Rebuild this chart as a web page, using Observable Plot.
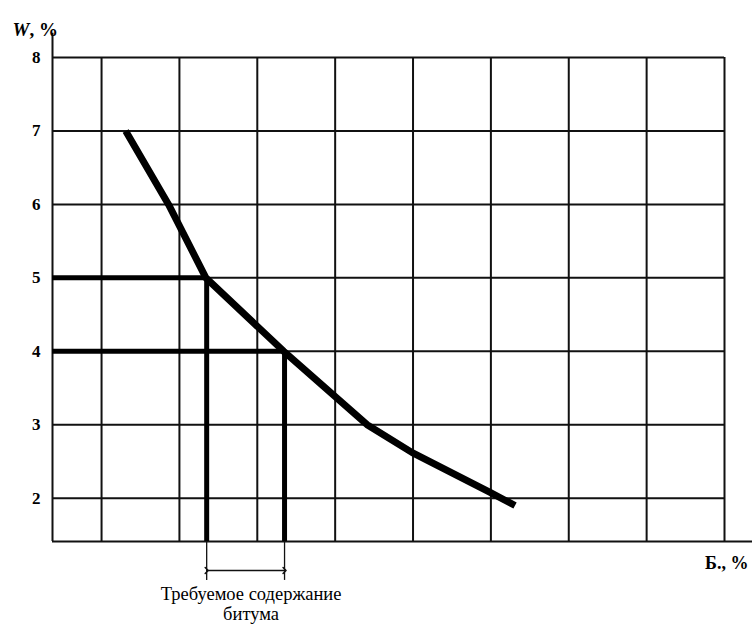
<!DOCTYPE html>
<html>
<head>
<meta charset="utf-8">
<script src="https://cdn.jsdelivr.net/npm/d3@7"></script>
<script src="https://cdn.jsdelivr.net/npm/@observablehq/plot@0.6"></script>
<style>
  html, body { margin: 0; padding: 0; background: #fff; }
  svg { display: block; }
</style>
</head>
<body>
<script>
// ---- data ----
const wTicks = [2, 3, 4, 5, 6, 7, 8];          // W, % gridlines / tick labels
const bGrid = [1, 2, 3, 4, 5, 6, 7, 8, 9];      // Б, % vertical gridlines (unlabelled)
const bDomain = [0.37, 9];
const wDomain = [1.41, 8];
const curveB = [1.31, 1.86, 2.34, 3.34, 4.41, 4.99, 5.99, 6.31];
const curveW = [7, 6, 5, 4, 3, 2.62, 2.08, 1.9];
const requiredW = [5, 4];
const requiredB = [2.35, 3.35];
const axisTopW = 8.33;
const axisRightB = 9.36;
const bracketW = [0.88, 1.015];                  // [bottom of leader lines, arrow level]
const captionText = "Требуемое содержание\nбитума";
const captionB = 2.92;
const captionW = 0.56;

const curve = curveB.map((b, i) => ({b, w: curveW[i]}));
const required = requiredB.map((b, i) => ({b, w: requiredW[i]}));

const svg = Plot.plot({
  width: 752,
  height: 628,
  marginLeft: 52,
  marginRight: 28,
  marginTop: 57,
  marginBottom: 87,
  style: {background: "#fff", fontFamily: "Liberation Serif, serif", color: "#000"},
  x: {domain: bDomain, axis: null},
  y: {domain: wDomain, axis: null},
  marks: [
    Plot.ruleY(wTicks, {x1: bDomain[0], x2: bDomain[1], stroke: "#111", strokeWidth: 2}),
    Plot.ruleX(bGrid, {y1: wDomain[0], y2: wDomain[1], stroke: "#111", strokeWidth: 2}),
    Plot.ruleX([bDomain[0]], {y1: wDomain[0], y2: axisTopW, stroke: "#111", strokeWidth: 2}),
    Plot.ruleY([wDomain[0]], {x1: bDomain[0], x2: axisRightB, stroke: "#111", strokeWidth: 2}),
    Plot.ruleY(required, {y: "w", x1: bDomain[0], x2: "b", stroke: "#000", strokeWidth: 5}),
    Plot.ruleX(required, {x: "b", y1: wDomain[0], y2: "w", stroke: "#000", strokeWidth: 5}),
    Plot.line(curve, {x: "b", y: "w", stroke: "#000", strokeWidth: 7, strokeLinecap: "butt", strokeLinejoin: "round", curve: "linear"}),
    Plot.ruleX(requiredB, {y1: wDomain[0], y2: bracketW[0], stroke: "#111", strokeWidth: 1.3}),
    Plot.link([{x1: requiredB[0], x2: requiredB[1], y: bracketW[1]}],
      {x1: "x1", x2: "x2", y1: "y", y2: "y", stroke: "#111", strokeWidth: 1.5,
       markerStart: "arrow", markerEnd: "arrow"}),
    Plot.text(wTicks, {x: bDomain[0], y: d => d, text: d => String(d), dx: -12, textAnchor: "end",
      fontSize: 17, fontWeight: "bold", fill: "#000"}),
    Plot.text([captionText], {x: captionB, y: captionW, text: d => d, fontSize: 18.5, lineHeight: 1.05, fill: "#000"}),
    Plot.text(["Б., %"], {frameAnchor: "bottom-right", dx: 24, dy: 27, textAnchor: "end", fontSize: 18, fontWeight: "bold", fill: "#000"}),
    Plot.text(["W, %"], {frameAnchor: "top-left", dx: -40, dy: -35, textAnchor: "start", fontSize: 19, fontWeight: "bold", fill: "#000"})
  ]
});

// Italicise the W in the vertical axis label
d3.select(svg).selectAll("text").each(function() {
  const t = d3.select(this);
  if (t.text() === "W, %") {
    t.text(null);
    t.append("tspan").attr("font-style", "italic").text("W");
    t.append("tspan").text(", %");
  }
});

document.body.appendChild(svg);
</script>
</body>
</html>
